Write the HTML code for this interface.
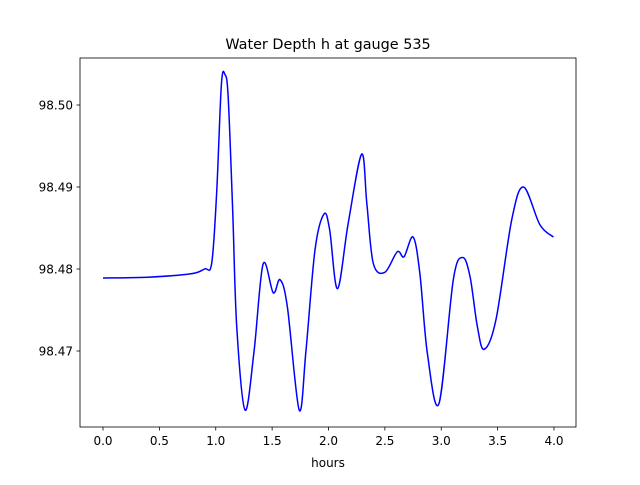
<!DOCTYPE html>
<html><head><meta charset="utf-8"><style>
body{margin:0;background:#fff;font-family:"Liberation Sans","DejaVu Sans",sans-serif}
</style></head><body>
<svg id="chart" width="640" height="480" font-family="DejaVu Sans, Liberation Sans, sans-serif">
<rect width="640" height="480" fill="#fff"/>
<text x="328" y="49" font-size="14.4" text-anchor="middle">Water Depth h at gauge 535</text>
<g id="plot"></g>
<rect x="80" y="58" width="496" height="369" fill="none" stroke="#000" stroke-width="0.8"/>
<text x="328" y="467" font-size="12" text-anchor="middle">hours</text>
</svg>
<script>
const xs=[0,0.4,0.772,0.9,0.964,1.008,1.05,1.082,1.11,1.15,1.186,1.26,1.34,1.42,1.51,1.57,1.635,1.74,1.8,1.88,1.96,2.01,2.08,2.175,2.294,2.34,2.397,2.5,2.61,2.67,2.75,2.81,2.877,2.98,3.107,3.19,3.255,3.32,3.38,3.485,3.625,3.73,3.875,3.995];
const ys=[98.4789,98.4790,98.4794,98.4800,98.4807,98.4893,98.5025,98.5037,98.5010,98.4872,98.4730,98.4628,98.4700,98.4806,98.4771,98.4787,98.4754,98.4628,98.4700,98.4823,98.4867,98.4848,98.4776,98.4856,98.4940,98.4880,98.4807,98.4796,98.4821,98.4815,98.4839,98.4795,98.4697,98.4636,98.4787,98.4814,98.4791,98.4730,98.4702,98.4738,98.4860,98.4900,98.4854,98.4839];
const xTicks=[0,0.5,1,1.5,2,2.5,3,3.5,4];
const xTickLabels=["0.0","0.5","1.0","1.5","2.0","2.5","3.0","3.5","4.0"];
const yTicks=[98.47,98.48,98.49,98.50];
const yTickLabels=["98.47","98.48","98.49","98.50"];
const X=v=>103+v*112.75;
const Y=v=>269-(v-98.48)*8200;
const NS="http://www.w3.org/2000/svg";
const g=document.getElementById('plot');
function mk(t,a){const e=document.createElementNS(NS,t);for(const k in a)e.setAttribute(k,a[k]);g.appendChild(e);return e;}
xTicks.forEach((t,i)=>{
 const l=mk('line',{x1:X(t),x2:X(t),y1:427,y2:430.5,stroke:'#000','stroke-width':0.8});
 
 
 const tx=mk('text',{x:X(t),y:445,'font-size':12,'text-anchor':'middle'});tx.textContent=xTickLabels[i];
 
 
});
yTicks.forEach((t,i)=>{
 const l=mk('line',{x1:76.5,x2:80,y1:Y(t),y2:Y(t),stroke:'#000','stroke-width':0.8});
 
 
 const tx=mk('text',{x:73,y:Y(t)+4.5,'font-size':12,'text-anchor':'end'});tx.textContent=yTickLabels[i];
 
 
});
const P=xs.map((x,i)=>[X(x),Y(ys[i])]);
let d=`M${P[0][0]},${P[0][1]}`;
for(let i=0;i<P.length-1;i++){
 const p0=P[Math.max(0,i-1)],p1=P[i],p2=P[i+1],p3=P[Math.min(P.length-1,i+2)];
 const c1=[p1[0]+(p2[0]-p0[0])/6,p1[1]+(p2[1]-p0[1])/6];
 const c2=[p2[0]-(p3[0]-p1[0])/6,p2[1]-(p3[1]-p1[1])/6];
 d+=` C${c1[0]},${c1[1]} ${c2[0]},${c2[1]} ${p2[0]},${p2[1]}`;
}
const path=mk('path',{d:d,fill:'none',stroke:'#0000ff','stroke-width':1.5});


</script>
</body></html>
